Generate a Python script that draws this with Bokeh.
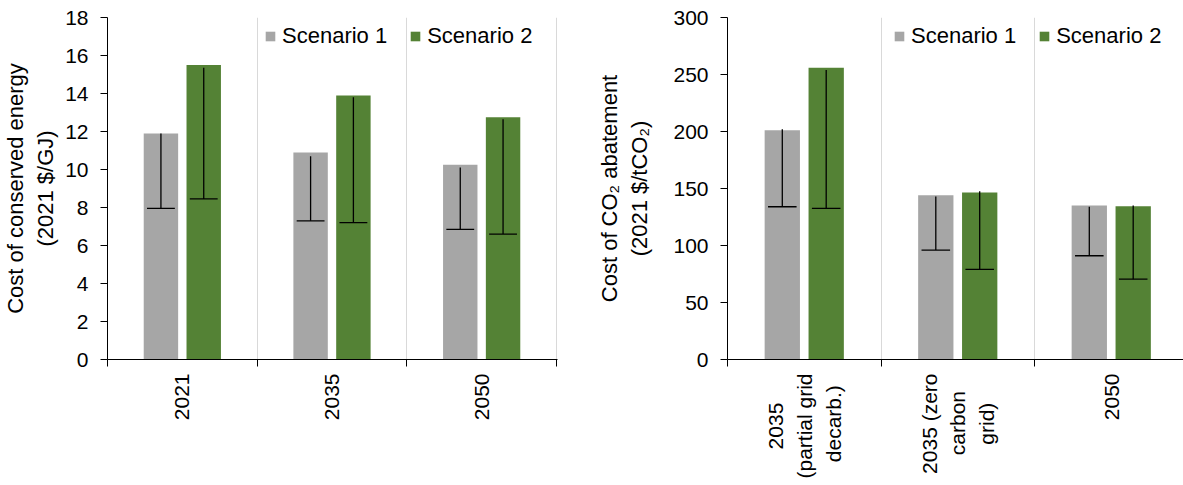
import math
from bokeh.plotting import figure
from bokeh.models import Range1d, FixedTicker, Legend, LegendItem
from bokeh.layouts import row
from bokeh.embed import file_html
from bokeh.resources import INLINE

# ---------------- data ----------------
left_cats = ["2021", "2035", "2050"]
left_s1 = [11.9, 10.9, 10.25]
left_s2 = [15.5, 13.9, 12.75]
left_s1_hi = [11.9, 10.7, 10.1]
left_s1_lo = [7.95, 7.3, 6.85]
left_s2_hi = [15.35, 13.8, 12.65]
left_s2_lo = [8.45, 7.2, 6.6]

right_cats = ["2035\n(partial grid\ndecarb.)", "2035 (zero\ncarbon\ngrid)", "2050"]
right_s1 = [201, 144, 135]
right_s2 = [256, 146.5, 134.5]
right_s1_hi = [202, 143, 134]
right_s1_lo = [134, 96, 91]
right_s2_hi = [254, 147.5, 135]
right_s2_lo = [132.5, 79, 70.5]

series_names = ["Scenario 1", "Scenario 2"]
colors = ["#a6a6a6", "#548235"]

FONT = "Liberation Sans"
FS_TICK = "21px"
FS_TITLE = "22px"

# approximate Arial/Liberation Sans advance widths (em) used to centre the
# lines of multi-line category labels (Bokeh right-aligns them when rotated)
_W = {"0": .556, "1": .556, "2": .556, "3": .556, "5": .556, " ": .278, "(": .333,
      ")": .333, ".": .278, "a": .556, "b": .556, "c": .5, "d": .556, "e": .556,
      "g": .556, "i": .222, "l": .222, "n": .556, "o": .556, "p": .556, "r": .333,
      "t": .278, "z": .5}
NBSP = "\u00a0"


def centre_lines(label):
    lines = label.split("\n")
    if len(lines) == 1:
        return label
    widths = [sum(_W.get(ch, .556) for ch in ln) for ln in lines]
    mw = max(widths)
    out = []
    for ln, w in zip(lines, widths):
        k = int(round((mw - w) / 2 / _W[" "]))
        out.append(ln + NBSP * k)
    return "\n".join(out)


def make_chart(cats, s1, s2, s1_hi, s1_lo, s2_hi, s2_lo, ymax, ystep, ylabel,
               width, x_end, b_left, b_right, title_standoff, legend_x):
    p = figure(width=width, height=485,
               x_range=Range1d(0, x_end), y_range=Range1d(0, ymax),
               output_backend="svg", toolbar_location=None,
               min_border_left=b_left, min_border_right=b_right,
               min_border_top=17, min_border_bottom=126)
    p.outline_line_color = None
    n = len(cats)
    centers = [i + 0.5 for i in range(n)]
    off = 0.143
    bw = 0.23
    x1 = [c - off for c in centers]
    x2 = [c + off for c in centers]
    r1 = p.vbar(x=x1, top=s1, width=bw, bottom=0, fill_color=colors[0], line_color=None)
    r2 = p.vbar(x=x2, top=s2, width=bw, bottom=0, fill_color=colors[1], line_color=None)
    cap = 0.093
    for xs, hi, lo in ((x1, s1_hi, s1_lo), (x2, s2_hi, s2_lo)):
        p.segment(x0=xs, y0=hi, x1=xs, y1=lo, line_color="#000000", line_width=1.3)
        p.segment(x0=[x - cap for x in xs], y0=lo, x1=[x + cap for x in xs], y1=lo,
                  line_color="#000000", line_width=1.3)

    # x axis: tick marks at category boundaries (minor), labels at centres (major)
    xa = p.xaxis[0]
    xa.ticker = FixedTicker(ticks=centers, minor_ticks=list(range(n + 1)))
    xa.major_label_overrides = {c: centre_lines(cats[i]) for i, c in enumerate(centers)}
    xa.major_label_orientation = math.pi / 2
    xa.major_tick_out = 0
    xa.major_tick_in = 0
    xa.minor_tick_out = 7
    xa.minor_tick_in = 0
    xa.minor_tick_line_color = "#000000"
    xa.major_label_standoff = 7
    xa.axis_line_color = "#000000"
    xa.major_label_text_font = FONT
    xa.major_label_text_font_size = FS_TICK
    xa.major_label_text_color = "#000000"
    xa.major_label_text_line_height = 1.25

    # y axis
    ya = p.yaxis[0]
    ya.ticker = FixedTicker(ticks=list(range(0, ymax + 1, ystep)), minor_ticks=[])
    ya.major_tick_out = 7
    ya.major_tick_in = 0
    ya.major_tick_line_color = "#000000"
    ya.axis_line_color = "#000000"
    ya.major_label_standoff = 12
    ya.major_label_text_font = FONT
    ya.major_label_text_font_size = FS_TICK
    ya.major_label_text_color = "#000000"
    ya.axis_label = ylabel
    ya.axis_label_text_font = FONT
    ya.axis_label_text_font_size = FS_TITLE
    ya.axis_label_text_font_style = "normal"
    ya.axis_label_text_color = "#000000"
    ya.axis_label_standoff = title_standoff

    p.ygrid.grid_line_color = None
    p.xgrid.ticker = FixedTicker(ticks=list(range(1, n + 1)))
    p.xgrid.grid_line_color = "#d9d9d9"
    p.xgrid.grid_line_width = 1

    legend = Legend(items=[LegendItem(label=series_names[0], renderers=[r1]),
                           LegendItem(label=series_names[1], renderers=[r2])],
                    orientation="horizontal", location=(legend_x, 310),
                    glyph_width=12, glyph_height=12, label_height=20,
                    label_standoff=6, spacing=22, padding=0, margin=0,
                    border_line_color=None, background_fill_alpha=0,
                    label_text_font=FONT, label_text_font_size=FS_TITLE,
                    label_text_color="#000000")
    p.add_layout(legend, "center")
    return p


p1 = make_chart(left_cats, left_s1, left_s2, left_s1_hi, left_s1_lo, left_s2_hi, left_s2_lo,
                18, 2, "Cost of conserved energy\n(2021 $/GJ)",
                591, 452 / 150.33, 105, 34, 4, 157)
p2 = make_chart(right_cats, right_s1, right_s2, right_s1_hi, right_s1_lo, right_s2_hi, right_s2_lo,
                300, 50, "Cost of CO\u2082 abatement\n(2021 $/tCO\u2082)",
                592, 456 / 153.5, 136, 0, 18, 166)

layout = row(p1, p2)
open("out.html", "w").write(file_html(layout, INLINE))
